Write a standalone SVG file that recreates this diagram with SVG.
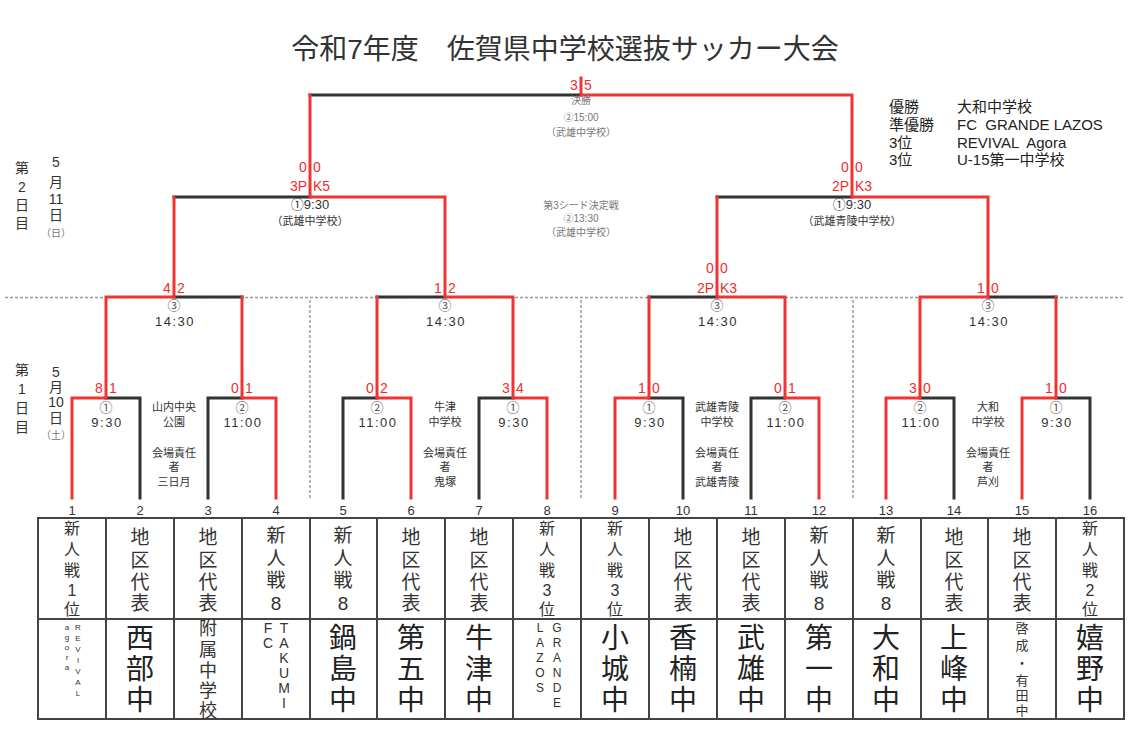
<svg xmlns="http://www.w3.org/2000/svg" width="1130" height="730" viewBox="0 0 1130 730">
<style>
text{font-family:'Liberation Sans','Noto Sans CJK JP',sans-serif;fill:#333;text-anchor:middle}
.r{fill:#ee2e2e;font-size:14px}
.rs{fill:#ee2e2e;font-size:14px;text-anchor:start}
.re{fill:#ee2e2e;font-size:14px;text-anchor:end}
.lb{stroke:#333;stroke-width:3;fill:none;stroke-linecap:square}
.lr{stroke:#f03434;stroke-width:3;fill:none;stroke-linecap:square}
.dot{stroke:#9a9a9a;stroke-width:1.5;stroke-dasharray:3 2;fill:none}
.g10{font-size:10px;fill:#777}
.c12{font-size:13px;fill:#555}
.tm{font-size:13px;letter-spacing:1.5px}
.sm{font-size:13px}
.ven{font-size:11px}
.v{font-size:11px}
.num{font-size:13px}
.day{font-size:14px;fill:#333}
.leg{font-size:15px;fill:#222;text-anchor:start}
.h16{font-size:16px}
.h19{font-size:19px}
.big{font-size:28px;fill:#222}
.cell{fill:none;stroke:#444;stroke-width:2}
</style>

<text x="565" y="59" font-size="28" fill="#222">令和7年度　佐賀県中学校選抜サッカー大会</text>

<g id="legend">
<text class="leg" x="889" y="112">優勝</text><text class="leg" x="957" y="112">大和中学校</text>
<text class="leg" x="889" y="130">準優勝</text><text class="leg" x="957" y="130" xml:space="preserve">FC  GRANDE LAZOS</text>
<text class="leg" x="889" y="148">3位</text><text class="leg" x="957" y="148" xml:space="preserve">REVIVAL  Agora</text>
<text class="leg" x="889" y="165">3位</text><text class="leg" x="957" y="165">U-15第一中学校</text>
</g>

<g id="day-labels">
<text class="day" x="22" y="173">第</text><text class="day" x="22" y="192">2</text><text class="day" x="22" y="210">日</text><text class="day" x="22" y="228">目</text>
<text class="day" x="56" y="167">5</text><text class="day" x="56" y="187">月</text><text class="day" x="56" y="204">11</text><text class="day" x="56" y="220">日</text><text class="g10" x="56" y="237">（日）</text>
<text class="day" x="22" y="375">第</text><text class="day" x="22" y="394">1</text><text class="day" x="22" y="413">日</text><text class="day" x="22" y="432">目</text>
<text class="day" x="56" y="377">5</text><text class="day" x="56" y="392">月</text><text class="day" x="56" y="407">10</text><text class="day" x="56" y="423">日</text><text class="g10" x="56" y="439">（土）</text>
</g>

<g id="guides">
<path class="dot" d="M5 297.5H1125"/>
<path class="dot" d="M310 300V500M581 300V500M853 300V500"/>
</g>

<g id="connectors">
<path class="lb" d="M140 498V398H106M208 498V398H242M343 498V398H377M479 498V398H513M683 498V398H649M751 498V398H785M954 498V398H920M1090 498V398H1056"/>
<path class="lb" d="M242 297H174M377 297H445M649 297H717M1056 297H988M174 197H310M717 197H852M310 95H581"/>
<path class="lr" d="M72 498V398H106V297H174V197"/>
<path class="lr" d="M276 498V398H242V297"/>
<path class="lr" d="M411 498V398H377V297"/>
<path class="lr" d="M547 498V398H513V297H445V197H310V95"/>
<path class="lr" d="M615 498V398H649V297"/>
<path class="lr" d="M819 498V398H785V297H717V197"/>
<path class="lr" d="M886 498V398H920V297H988V197H852V95H581V78"/>
<path class="lr" d="M1022 498V398H1056V297"/>
</g>

<g id="final">
<text class="r" x="574" y="90">3</text><text class="r" x="588" y="90">5</text>
<text class="g10" x="581" y="104">決勝</text>
<text class="g10" x="581" y="121">②15:00</text>
<text class="g10" x="581" y="136">（武雄中学校）</text>
</g>

<g id="third-place">
<text class="g10" x="581" y="209">第3シード決定戦</text>
<text class="g10" x="581" y="222">②13:30</text>
<text class="g10" x="581" y="236">（武雄中学校）</text>
</g>

<g id="semi-1">
<text class="r" x="303" y="172">0</text><text class="r" x="317" y="172">0</text>
<text class="re" x="307" y="191">3P</text><text class="rs" x="313" y="191">K5</text>
<text class="sm" x="310" y="209">①9:30</text>
<text class="ven" x="310" y="225">（武雄中学校）</text>
</g>
<g id="semi-2">
<text class="r" x="845" y="172">0</text><text class="r" x="859" y="172">0</text>
<text class="re" x="849" y="191">2P</text><text class="rs" x="855" y="191">K3</text>
<text class="sm" x="852" y="209">①9:30</text>
<text class="ven" x="852" y="225">（武雄青陵中学校）</text>
</g>

<g id="r2-1">
<text class="r" x="167" y="293">4</text><text class="r" x="181" y="293">2</text>
<text class="c12" x="174" y="310">③</text><text class="tm" x="175" y="326">14:30</text>
</g>
<g id="r2-2">
<text class="r" x="438" y="293">1</text><text class="r" x="452" y="293">2</text>
<text class="c12" x="445" y="310">③</text><text class="tm" x="446" y="326">14:30</text>
</g>
<g id="r2-3">
<text class="r" x="710" y="273">0</text><text class="r" x="724" y="273">0</text>
<text class="re" x="714" y="293">2P</text><text class="rs" x="720" y="293">K3</text>
<text class="c12" x="717" y="310">③</text><text class="tm" x="718" y="326">14:30</text>
</g>
<g id="r2-4">
<text class="r" x="981" y="293">1</text><text class="r" x="995" y="293">0</text>
<text class="c12" x="988" y="310">③</text><text class="tm" x="989" y="326">14:30</text>
</g>

<g id="r1-1"><text class="r" x="99" y="393">8</text><text class="r" x="113" y="393">1</text><text class="c12" x="106" y="412">①</text><text class="tm" x="107" y="427">9:30</text></g>
<g id="r1-2"><text class="r" x="235" y="393">0</text><text class="r" x="249" y="393">1</text><text class="c12" x="242" y="412">②</text><text class="tm" x="243" y="427">11:00</text></g>
<g id="r1-3"><text class="r" x="370" y="393">0</text><text class="r" x="384" y="393">2</text><text class="c12" x="377" y="412">②</text><text class="tm" x="378" y="427">11:00</text></g>
<g id="r1-4"><text class="r" x="506" y="393">3</text><text class="r" x="520" y="393">4</text><text class="c12" x="513" y="412">①</text><text class="tm" x="514" y="427">9:30</text></g>
<g id="r1-5"><text class="r" x="642" y="393">1</text><text class="r" x="656" y="393">0</text><text class="c12" x="649" y="412">①</text><text class="tm" x="650" y="427">9:30</text></g>
<g id="r1-6"><text class="r" x="778" y="393">0</text><text class="r" x="792" y="393">1</text><text class="c12" x="785" y="412">②</text><text class="tm" x="786" y="427">11:00</text></g>
<g id="r1-7"><text class="r" x="913" y="393">3</text><text class="r" x="927" y="393">0</text><text class="c12" x="920" y="412">②</text><text class="tm" x="921" y="427">11:00</text></g>
<g id="r1-8"><text class="r" x="1049" y="393">1</text><text class="r" x="1063" y="393">0</text><text class="c12" x="1056" y="412">①</text><text class="tm" x="1057" y="427">9:30</text></g>

<g id="venue-1">
<text class="v" x="174" y="411">山内中央</text><text class="v" x="174" y="426">公園</text>
<text class="v" x="174" y="457">会場責任</text><text class="v" x="174" y="471">者</text><text class="v" x="174" y="486">三日月</text>
</g>
<g id="venue-2">
<text class="v" x="445" y="411">牛津</text><text class="v" x="445" y="426">中学校</text>
<text class="v" x="445" y="457">会場責任</text><text class="v" x="445" y="471">者</text><text class="v" x="445" y="486">鬼塚</text>
</g>
<g id="venue-3">
<text class="v" x="717" y="411">武雄青陵</text><text class="v" x="717" y="426">中学校</text>
<text class="v" x="717" y="457">会場責任</text><text class="v" x="717" y="471">者</text><text class="v" x="717" y="486">武雄青陵</text>
</g>
<g id="venue-4">
<text class="v" x="988" y="411">大和</text><text class="v" x="988" y="426">中学校</text>
<text class="v" x="988" y="457">会場責任</text><text class="v" x="988" y="471">者</text><text class="v" x="988" y="486">芦刈</text>
</g>

<g id="seed-numbers">
<text class="num" x="72" y="515">1</text><text class="num" x="140" y="515">2</text><text class="num" x="208" y="515">3</text><text class="num" x="276" y="515">4</text>
<text class="num" x="343" y="515">5</text><text class="num" x="411" y="515">6</text><text class="num" x="479" y="515">7</text><text class="num" x="547" y="515">8</text>
<text class="num" x="615" y="515">9</text><text class="num" x="683" y="515">10</text><text class="num" x="751" y="515">11</text><text class="num" x="819" y="515">12</text>
<text class="num" x="886" y="515">13</text><text class="num" x="954" y="515">14</text><text class="num" x="1022" y="515">15</text><text class="num" x="1090" y="515">16</text>
</g>

<g id="table">
<rect class="cell" x="38" y="518" width="1086" height="201"/>
<path class="cell" d="M38 619H1124M106 518V719M174 518V719M242 518V719M310 518V719M377 518V719M445 518V719M513 518V719M581 518V719M649 518V719M717 518V719M785 518V719M853 518V719M921 518V719M988 518V719M1056 518V719"/>
</g>

<g id="team-1">
<text class="h16"><tspan x="72" y="534">新</tspan><tspan x="72" y="555">人</tspan><tspan x="72" y="576">戦</tspan><tspan x="72" y="596">1</tspan><tspan x="72" y="615">位</tspan></text>
<text font-size="8" fill="#999"><tspan x="78" y="630">R</tspan><tspan x="78" y="641">E</tspan><tspan x="78" y="652">V</tspan><tspan x="78" y="663">I</tspan><tspan x="78" y="674">V</tspan><tspan x="78" y="685">A</tspan><tspan x="78" y="696">L</tspan></text>
<text font-size="8" fill="#999"><tspan x="67" y="630">a</tspan><tspan x="67" y="640">g</tspan><tspan x="67" y="650">o</tspan><tspan x="67" y="660">r</tspan><tspan x="67" y="670">a</tspan></text>
</g>
<g id="team-2">
<text class="h19"><tspan x="140" y="544">地</tspan><tspan x="140" y="567">区</tspan><tspan x="140" y="589">代</tspan><tspan x="140" y="610">表</tspan></text>
<text class="big"><tspan x="140" y="648">西</tspan><tspan x="140" y="679">部</tspan><tspan x="140" y="710">中</tspan></text>
</g>
<g id="team-3">
<text class="h19"><tspan x="208" y="544">地</tspan><tspan x="208" y="567">区</tspan><tspan x="208" y="589">代</tspan><tspan x="208" y="610">表</tspan></text>
<text font-size="18"><tspan x="208" y="635">附</tspan><tspan x="208" y="656">属</tspan><tspan x="208" y="677">中</tspan><tspan x="208" y="697">学</tspan><tspan x="208" y="717">校</tspan></text>
</g>
<g id="team-4">
<text class="h19"><tspan x="276" y="542">新</tspan><tspan x="276" y="565">人</tspan><tspan x="276" y="587">戦</tspan><tspan x="276" y="610">8</tspan></text>
<text font-size="14"><tspan x="284" y="633">T</tspan><tspan x="284" y="648">A</tspan><tspan x="284" y="663">K</tspan><tspan x="284" y="678">U</tspan><tspan x="284" y="693">M</tspan><tspan x="284" y="708">I</tspan></text>
<text font-size="14"><tspan x="268" y="633">F</tspan><tspan x="268" y="648">C</tspan></text>
</g>
<g id="team-5">
<text class="h19"><tspan x="343" y="542">新</tspan><tspan x="343" y="565">人</tspan><tspan x="343" y="587">戦</tspan><tspan x="343" y="610">8</tspan></text>
<text class="big"><tspan x="343" y="648">鍋</tspan><tspan x="343" y="679">島</tspan><tspan x="343" y="710">中</tspan></text>
</g>
<g id="team-6">
<text class="h19"><tspan x="411" y="544">地</tspan><tspan x="411" y="567">区</tspan><tspan x="411" y="589">代</tspan><tspan x="411" y="610">表</tspan></text>
<text class="big"><tspan x="411" y="648">第</tspan><tspan x="411" y="679">五</tspan><tspan x="411" y="710">中</tspan></text>
</g>
<g id="team-7">
<text class="h19"><tspan x="479" y="544">地</tspan><tspan x="479" y="567">区</tspan><tspan x="479" y="589">代</tspan><tspan x="479" y="610">表</tspan></text>
<text class="big"><tspan x="479" y="648">牛</tspan><tspan x="479" y="679">津</tspan><tspan x="479" y="710">中</tspan></text>
</g>
<g id="team-8">
<text class="h16"><tspan x="547" y="534">新</tspan><tspan x="547" y="555">人</tspan><tspan x="547" y="576">戦</tspan><tspan x="547" y="596">3</tspan><tspan x="547" y="615">位</tspan></text>
<text font-size="12"><tspan x="557" y="632">G</tspan><tspan x="557" y="647">R</tspan><tspan x="557" y="662">A</tspan><tspan x="557" y="677">N</tspan><tspan x="557" y="692">D</tspan><tspan x="557" y="707">E</tspan></text>
<text font-size="12"><tspan x="540" y="632">L</tspan><tspan x="540" y="647">A</tspan><tspan x="540" y="662">Z</tspan><tspan x="540" y="677">O</tspan><tspan x="540" y="692">S</tspan></text>
</g>
<g id="team-9">
<text class="h16"><tspan x="615" y="534">新</tspan><tspan x="615" y="555">人</tspan><tspan x="615" y="576">戦</tspan><tspan x="615" y="596">3</tspan><tspan x="615" y="615">位</tspan></text>
<text class="big"><tspan x="615" y="648">小</tspan><tspan x="615" y="679">城</tspan><tspan x="615" y="710">中</tspan></text>
</g>
<g id="team-10">
<text class="h19"><tspan x="683" y="544">地</tspan><tspan x="683" y="567">区</tspan><tspan x="683" y="589">代</tspan><tspan x="683" y="610">表</tspan></text>
<text class="big"><tspan x="683" y="648">香</tspan><tspan x="683" y="679">楠</tspan><tspan x="683" y="710">中</tspan></text>
</g>
<g id="team-11">
<text class="h19"><tspan x="751" y="544">地</tspan><tspan x="751" y="567">区</tspan><tspan x="751" y="589">代</tspan><tspan x="751" y="610">表</tspan></text>
<text class="big"><tspan x="751" y="648">武</tspan><tspan x="751" y="679">雄</tspan><tspan x="751" y="710">中</tspan></text>
</g>
<g id="team-12">
<text class="h19"><tspan x="819" y="542">新</tspan><tspan x="819" y="565">人</tspan><tspan x="819" y="587">戦</tspan><tspan x="819" y="610">8</tspan></text>
<text class="big"><tspan x="819" y="648">第</tspan><tspan x="819" y="679">一</tspan><tspan x="819" y="710">中</tspan></text>
</g>
<g id="team-13">
<text class="h19"><tspan x="886" y="542">新</tspan><tspan x="886" y="565">人</tspan><tspan x="886" y="587">戦</tspan><tspan x="886" y="610">8</tspan></text>
<text class="big"><tspan x="886" y="648">大</tspan><tspan x="886" y="679">和</tspan><tspan x="886" y="710">中</tspan></text>
</g>
<g id="team-14">
<text class="h19"><tspan x="954" y="544">地</tspan><tspan x="954" y="567">区</tspan><tspan x="954" y="589">代</tspan><tspan x="954" y="610">表</tspan></text>
<text class="big"><tspan x="954" y="648">上</tspan><tspan x="954" y="679">峰</tspan><tspan x="954" y="710">中</tspan></text>
</g>
<g id="team-15">
<text class="h19"><tspan x="1022" y="544">地</tspan><tspan x="1022" y="567">区</tspan><tspan x="1022" y="589">代</tspan><tspan x="1022" y="610">表</tspan></text>
<text font-size="13"><tspan x="1022" y="633">啓</tspan><tspan x="1022" y="650">成</tspan><tspan x="1022" y="668">・</tspan><tspan x="1022" y="685">有</tspan><tspan x="1022" y="700">田</tspan><tspan x="1022" y="715">中</tspan></text>
</g>
<g id="team-16">
<text class="h16"><tspan x="1090" y="534">新</tspan><tspan x="1090" y="555">人</tspan><tspan x="1090" y="576">戦</tspan><tspan x="1090" y="596">2</tspan><tspan x="1090" y="615">位</tspan></text>
<text class="big"><tspan x="1090" y="648">嬉</tspan><tspan x="1090" y="679">野</tspan><tspan x="1090" y="710">中</tspan></text>
</g>
</svg>
